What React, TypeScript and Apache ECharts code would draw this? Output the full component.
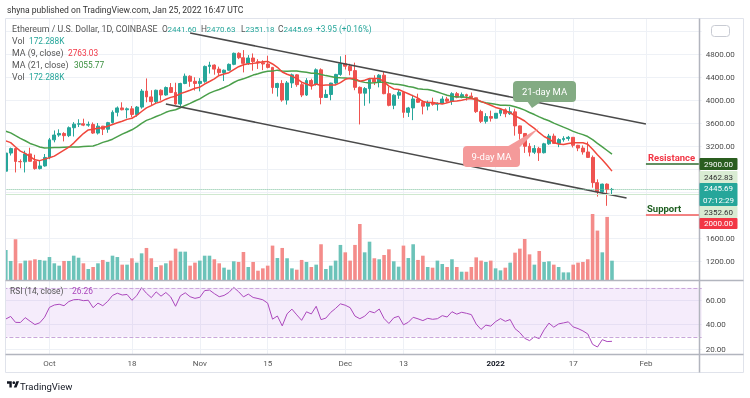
import React, { useEffect, useRef } from "react";
import * as echarts from "echarts";

// ---------- categories (daily, Sep 22 2021 .. Feb 12 2022) ----------
const startDateUTC = Date.UTC(2021, 8, 22);
const categoryCount = 144;
const categories: string[] = Array.from({ length: categoryCount }, (_, i) =>
  new Date(startDateUTC + i * 86400000).toISOString().slice(0, 10)
);

const timeLabels: Record<string, string> = {
  "2021-10-01": "Oct",
  "2021-10-18": "18",
  "2021-11-01": "Nov",
  "2021-11-15": "15",
  "2021-12-01": "Dec",
  "2021-12-13": "13",
  "2022-01-01": "2022",
  "2022-01-17": "17",
  "2022-02-01": "Feb",
};

// price-axis ticks hidden behind the coloured price tags / USD badge
const coveredPriceTicks = [5200, 2800, 2400, 2000];

// closes before the visible range (Aug 1 .. Sep 21), used only by the indicators
const warmupCloses = [
  2557, 2608, 2507, 2725, 2827, 2890, 3157, 3013, 3163, 3142, 3164, 3043, 3322, 3266, 3310, 3147,
  3012, 3016, 3182, 3287, 3225, 3243, 3321, 3175, 3228, 3100, 3269, 3245, 3225, 3227, 3433,
  3834, 3787, 3941, 3887, 3952, 3927, 3429, 3497, 3427, 3211, 3267, 3408, 3286, 3430, 3613, 3575,
  3398, 3434, 3331, 2977, 2762,
];

// visible candles, Sep 22 2021 .. Jan 25 2022
const opens = [
  2762, 3077, 3155, 2931, 2925, 3062, 2934, 2807, 2853,
  3001, 3307, 3391, 3418, 3380, 3518, 3580, 3587, 3563, 3575,
  3425, 3545, 3492, 3606, 3786, 3862, 3830, 3847, 3748, 3877,
  4155, 4054, 3972, 4170, 4087, 4217, 4131, 3930, 4287, 4414, 4325,
  4288, 4324, 4584, 4607, 4537, 4476, 4518, 4620, 4812, 4735,
  4637, 4730, 4667, 4648, 4626, 4567, 4217, 4287, 3999, 4297,
  4437, 4267, 4086, 4339, 4271, 4525, 4044, 4096, 4294, 4445,
  4631, 4587, 4511, 4220, 4119, 4198, 4358, 4310, 4432, 4110,
  3907, 4084, 4134, 3785, 3862, 4018, 3961, 3893, 3958, 3925,
  3940, 4017, 3979, 4110, 4047, 4093, 4068, 4039, 3798, 3629, 3713,
  3683, 3769, 3829, 3761, 3794, 3550, 3418, 3195, 3092, 3158,
  3083, 3238, 3372, 3245, 3311, 3331, 3351, 3212, 3164, 3096,
  3002, 2563, 2405, 2537, 2441.6,
];
const highs = [
  3100, 3172, 3165, 2967, 3118, 3170, 3047, 2950, 3061,
  3340, 3470, 3490, 3440, 3540, 3615, 3665, 3675, 3625, 3610,
  3600, 3550, 3620, 3820, 3888, 3960, 3870, 3895, 3895, 4190,
  4375, 4170, 4180, 4185, 4235, 4295, 4300, 4300, 4460, 4430, 4395,
  4380, 4600, 4665, 4620, 4580, 4530, 4635, 4825, 4830, 4868,
  4780, 4810, 4710, 4690, 4770, 4575, 4300, 4345, 4330, 4460,
  4450, 4300, 4380, 4370, 4550, 4550, 4180, 4300, 4455, 4760,
  4785, 4630, 4650, 4235, 4225, 4360, 4430, 4450, 4485, 4230,
  4100, 4180, 4140, 3880, 4090, 4110, 3995, 3990, 4040, 3960,
  4065, 4055, 4135, 4140, 4130, 4110, 4130, 4040, 3830, 3770, 3815,
  3770, 3860, 3855, 3880, 3850, 3555, 3420, 3250, 3215, 3185,
  3255, 3410, 3415, 3335, 3370, 3375, 3355, 3220, 3210, 3275,
  3035, 2620, 2545, 2550, 2470.63,
];
const lows = [
  2742, 3035, 2740, 2812, 2740, 2930, 2788, 2792, 2840,
  2970, 3264, 3360, 3280, 3355, 3365, 3530, 3545, 3535, 3410,
  3400, 3390, 3430, 3590, 3715, 3820, 3680, 3700, 3710, 3850,
  3960, 3895, 3945, 3990, 4075, 4120, 3920, 3890, 4275, 4230, 4165,
  4150, 4300, 4460, 4440, 4430, 4330, 4510, 4605, 4710, 4480,
  4610, 4510, 4540, 4520, 4550, 4110, 4060, 3970, 3920, 4210,
  4230, 4050, 4070, 4180, 4250, 3925, 4040, 3995, 4270, 4420,
  4530, 4430, 4170, 3575, 3900, 3940, 4260, 4220, 4100, 3890,
  3840, 4020, 3690, 3705, 3650, 3950, 3750, 3820, 3900, 3815,
  3930, 3950, 3915, 4030, 4030, 3990, 4030, 3775, 3600, 3590, 3625,
  3680, 3720, 3700, 3740, 3380, 3310, 3080, 3020, 3060, 2940,
  3070, 3220, 3235, 3180, 3275, 3290, 3175, 3110, 3050, 2995,
  2475, 2320, 2385, 2160, 2351.18,
];
const closes = [
  3077, 3155, 2931, 2925, 3062, 2934, 2807, 2853, 3001,
  3307, 3391, 3418, 3380, 3518, 3580, 3587, 3563, 3575, 3425,
  3545, 3492, 3606, 3786, 3862, 3830, 3847, 3748, 3877, 4155,
  4054, 3972, 4170, 4087, 4217, 4131, 3930, 4287, 4414, 4325, 4288,
  4324, 4584, 4607, 4537, 4476, 4518, 4620, 4812, 4735, 4637,
  4730, 4667, 4648, 4626, 4567, 4217, 4287, 3999, 4297, 4437,
  4267, 4086, 4339, 4271, 4525, 4044, 4096, 4294, 4445, 4631,
  4587, 4511, 4220, 4119, 4198, 4358, 4310, 4432, 4110, 3907,
  4084, 4134, 3785, 3862, 4018, 3961, 3893, 3958, 3925, 3940,
  4017, 3979, 4110, 4047, 4093, 4068, 4039, 3798, 3629, 3713, 3683,
  3769, 3829, 3761, 3794, 3550, 3418, 3195, 3092, 3158, 3083,
  3238, 3372, 3245, 3311, 3331, 3351, 3212, 3164, 3096, 3002,
  2563, 2405, 2537, 2441.74, 2445.69,
];
// volume in thousands of ETH
const volumesK = [
  268, 170, 363, 149, 173, 173, 185, 179, 173,
  205, 149, 128, 170, 170, 217, 199, 149, 98, 116,
  149, 179, 161, 217, 205, 137, 137, 194, 155, 238,
  286, 194, 116, 131, 149, 173, 280, 253, 253, 128, 155,
  173, 217, 217, 185, 149, 110, 92, 167, 161, 250,
  116, 161, 83, 104, 128, 307, 196, 286, 194, 104,
  92, 179, 161, 116, 137, 319, 98, 128, 173, 313,
  247, 173, 313, 500, 247, 342, 194, 185, 223, 274,
  167, 119, 307, 196, 319, 179, 217, 116, 110, 173,
  143, 116, 185, 116, 74, 74, 116, 202, 173, 161, 173,
  104, 86, 110, 155, 244, 280, 366, 229, 137, 259,
  161, 167, 137, 116, 68, 68, 137, 155, 161, 185,
  589, 441, 247, 563, 172.288,
];

// annotation values
const channelUpper = [[38, 5165], [132, 3583]];
const channelLower = [[33, 3930], [128, 2295]];
const resistanceLevel = 2900;
const supportLevel = 2000;
const lastPrice = 2445.69;
const lowLine = 2352.6;

// ---------- indicators derived from the closes ----------
const allCloses = [...warmupCloses, ...closes];
const W = warmupCloses.length;
function sma(period: number) {
  return closes.map((_, i) => {
    const j = i + W;
    let s = 0;
    for (let k = j - period + 1; k <= j; k++) s += allCloses[k];
    return +(s / period).toFixed(2);
  });
}
function rsi(period: number) {
  let ag = 0, al = 0;
  const out: number[] = [];
  for (let k = 1; k < allCloses.length; k++) {
    const ch = allCloses[k] - allCloses[k - 1];
    const g = Math.max(ch, 0), l = Math.max(-ch, 0);
    if (k <= period) {
      ag += g / period;
      al += l / period;
    } else {
      ag = (ag * (period - 1) + g) / period;
      al = (al * (period - 1) + l) / period;
    }
    if (k >= W) out.push(+(100 - 100 / (1 + ag / al)).toFixed(2));
  }
  return out;
}
const ma9 = sma(9);
const ma21 = sma(21);
const rsi14 = rsi(14);

const UP = "#26a69a";
const DOWN = "#ef5350";
const FONT = "Roboto";

const GRID_LEFT = 3.4;
const GRID_W = 698.3;

function txt(x: number, y: number, text: string, fill: string, size = 8, extra: any = {}) {
  return {
    type: "text",
    z: 80,
    x,
    y,
    style: { text, fill, font: `${extra.weight || "normal"} ${size}px ${FONT}`, verticalAlign: "middle", align: extra.align || "left" },
  };
}
function priceTag(y: number, h: number, fill: string, color: string, lines: string[]) {
  const els: any[] = [
    { type: "rect", z: 85, shape: { x: 699.5, y, width: 38, height: h, r: 1 }, style: { fill } },
  ];
  lines.forEach((t, i) => {
    els.push({
      type: "text",
      z: 86,
      x: 718.5,
      y: y + (h / lines.length) * (i + 0.5),
      style: { text: t, fill: color, font: `8px ${FONT}`, align: "center", verticalAlign: "middle" },
    });
  });
  return els;
}

echarts.graphic.registerShape(
  "tvlogo",
  echarts.graphic.extendPath("M14 22H7V11H0V4h14v18zM28 22h-8l7.5-18h8L28 22z", {})
);

export default function App() {
  const ref = useRef<HTMLDivElement>(null);
  useEffect(() => {
    document.body.style.margin = "0";
    const chart = echarts.init(ref.current!, undefined, { renderer: "svg" });
    const labelInterval = (_i: number, v: string) => !!timeLabels[v];
    const baseGrid = { left: GRID_LEFT, width: GRID_W, containLabel: false, outerBoundsMode: "none" };
    const hiddenX = (gridIndex: number) => ({
      type: "category",
      gridIndex,
      data: categories,
      boundaryGap: true,
      show: false,
    });
    const LS = 8.8; // legend word font size
    const VS = 8; // legend number font size

    const graphics: any[] = [
      { type: "rect", z: 50, shape: { x: 0, y: 18, width: 6, height: 356 }, style: { fill: "#fff" } },
      { type: "rect", z: 60, shape: { x: 5.5, y: 18.5, width: 738, height: 354 }, style: { fill: "none", stroke: "#e0e3eb", lineWidth: 1 } },
      { type: "line", z: 60, shape: { x1: 5.5, y1: 280.5, x2: 743.5, y2: 280.5 }, style: { stroke: "#b2b5be", lineWidth: 1.5 } },
      { type: "line", z: 60, shape: { x1: 5.5, y1: 354.5, x2: 743.5, y2: 354.5 }, style: { stroke: "#b2b5be", lineWidth: 1.5 } },
      { type: "line", z: 60, shape: { x1: 699.5, y1: 18.5, x2: 699.5, y2: 372.5 }, style: { stroke: "#b2b5be", lineWidth: 1.5 } },
      // title
      txt(7, 10, "shyna published on TradingView.com, Jan 25, 2022 16:47 UTC", "#333", 8.6),
      // legend
      txt(12, 29, "Ethereum / U.S. Dollar, 1D, COINBASE", "#555", LS),
      txt(162, 29, "O", "#555", VS + 0.4), txt(167.5, 29, "2441.60", UP, VS),
      txt(201, 29, "H", "#555", VS + 0.4), txt(206.5, 29, "2470.63", UP, VS),
      txt(241, 29, "L", "#555", VS + 0.4), txt(245.5, 29, "2351.18", UP, VS),
      txt(278, 29, "C", "#555", VS + 0.4), txt(283.5, 29, "2445.69", UP, VS),
      txt(316, 29, "+3.95 (+0.16%)", UP, VS + 0.3),
      txt(12, 41, "Vol", "#555", LS), txt(29, 41, "172.288K", UP, VS + 0.3),
      txt(12, 53, "MA (9, close)", "#555", LS), txt(68, 53, "2763.03", "#f23645", VS + 0.3),
      txt(12, 65, "MA (21, close)", "#555", LS), txt(74, 65, "3055.77", "#388e3c", VS + 0.3),
      txt(12, 77, "Vol", "#555", LS), txt(29, 77, "172.288K", UP, VS + 0.3),
      txt(10, 291, "RSI (14, close)", "#555", 8.4), txt(72, 291, "26.26", "#ab47bc", 8.4),
      // USD badge
      { type: "rect", z: 85, shape: { x: 711.5, y: 25.5, width: 18, height: 11, r: 3 }, style: { fill: "#fff", stroke: "#c8cbd3", lineWidth: 1 } },
      txt(720.5, 31, "USD", "#333", 7, { align: "center" }),
      // price tags
      ...priceTag(158, 12, "#2a5d1f", "#fff", ["2900.00"]),
      ...priceTag(171, 12, "#d9ecd3", "#333", ["2462.83"]),
      ...priceTag(183, 23, "#26a69a", "#fff", ["2445.69", "07:12:29"]),
      ...priceTag(206, 12, "#d9ecd3", "#333", ["2352.60"]),
      ...priceTag(218, 11, "#f23645", "#fff", ["2000.00"]),
      // resistance / support texts
      txt(648, 157, "Resistance", "#f23645", 9.5, { weight: "bold" }),
      txt(647, 208, "Support", "#1e5e20", 9.5, { weight: "bold" }),
      // 21-day MA callout
      { type: "polygon", z: 70, shape: { points: [[527, 101], [542, 101], [532, 108]] }, style: { fill: "#83ab83" } },
      { type: "rect", z: 70, shape: { x: 513, y: 81, width: 63, height: 21, r: 4 }, style: { fill: "#83ab83" } },
      txt(544.5, 91.5, "21-day MA", "#fff", 9.5, { align: "center" }),
      // 9-day MA callout
      { type: "polygon", z: 70, shape: { points: [[505, 148], [519, 148], [539, 128]] }, style: { fill: "#f49a9a" } },
      { type: "rect", z: 70, shape: { x: 463, y: 146, width: 57, height: 21, r: 4 }, style: { fill: "#f49a9a" } },
      txt(491.5, 156.5, "9-day MA", "#fff", 9.5, { align: "center" }),
      // TradingView logo
      { type: "tvlogo", z: 80, x: 7, y: 380, scaleX: 0.34, scaleY: 0.34, style: { fill: "#131722" } },
      { type: "circle", z: 80, shape: { cx: 7 + 20 * 0.34, cy: 380 + 8 * 0.34, r: 4 * 0.34 }, style: { fill: "#131722" } },
      txt(20, 386, "TradingView", "#131722", 9.5),
    ];

    chart.setOption({
      animation: false,
      textStyle: { fontFamily: FONT },
      grid: [
        { ...baseGrid, top: 18, height: 336 }, // background: time axis + vertical grid
        { ...baseGrid, top: 8, height: 276 }, // price
        { ...baseGrid, top: 200, height: 80 }, // volume
        { ...baseGrid, top: 275.5, height: 98 }, // RSI
      ],
      xAxis: [
        {
          type: "category",
          gridIndex: 0,
          data: categories,
          boundaryGap: true,
          axisLine: { show: false },
          axisTick: { show: false, interval: labelInterval },
          axisLabel: {
            interval: labelInterval,
            margin: 5,
            fontSize: 8,
            color: "#555",
            formatter: (v: string) => (timeLabels[v] === "2022" ? "{b|2022}" : timeLabels[v] || ""),
            rich: { b: { fontWeight: "bold", color: "#131722", fontSize: 8 } },
          },
          splitLine: { show: true, interval: labelInterval, alignWithLabel: true, lineStyle: { color: "#eef1f6", width: 1 } },
        },
        hiddenX(1),
        hiddenX(2),
        hiddenX(3),
      ],
      yAxis: [
        { type: "value", gridIndex: 0, show: false },
        {
          type: "value",
          gridIndex: 1,
          position: "right",
          min: 800,
          max: 5600,
          interval: 400,
          axisLine: { show: false },
          axisTick: { show: false },
          splitLine: { show: true, showMinLine: false, showMaxLine: false, lineStyle: { color: "#eef1f6" } },
          axisLabel: {
            showMinLabel: false,
            showMaxLabel: false,
            fontSize: 8,
            color: "#4a4a4a",
            margin: 4,
            formatter: (v: number) => (coveredPriceTicks.includes(v) ? "" : v.toFixed(2)),
          },
        },
        { type: "value", gridIndex: 2, show: false, min: 0, max: 714 },
        {
          type: "value",
          gridIndex: 3,
          position: "right",
          min: 0,
          max: 80,
          interval: 20,
          axisLine: { show: false },
          axisTick: { show: false },
          splitLine: { show: true, showMinLine: false, showMaxLine: false, lineStyle: { color: "#eef1f6" } },
          axisLabel: { showMinLabel: false, showMaxLabel: false, fontSize: 8, color: "#4a4a4a", margin: 4, formatter: (v: number) => v.toFixed(2) },
        },
      ],
      series: [
        {
          type: "bar",
          xAxisIndex: 2,
          yAxisIndex: 2,
          barWidth: "74%",
          data: volumesK.map((v, i) => ({
            value: v,
            itemStyle: { color: closes[i] >= opens[i] ? "#6cc3b9" : "#f48c8a" },
          })),
          silent: true,
        },
        {
          type: "candlestick",
          xAxisIndex: 1,
          yAxisIndex: 1,
          barWidth: "70%",
          data: opens.map((o, i) => [o, closes[i], lows[i], highs[i]]),
          itemStyle: { color: UP, color0: DOWN, borderColor: UP, borderColor0: DOWN, borderWidth: 1 },
          silent: true,
          markLine: {
            silent: true,
            symbol: ["none", "none"],
            label: { show: false },
            data: [
              { yAxis: lastPrice, lineStyle: { color: "#7cc09c", type: "dotted", width: 1 } },
              { yAxis: lowLine, lineStyle: { color: "#cfe8cf", type: "solid", width: 1 } },
              [
                { coord: [132, resistanceLevel], lineStyle: { color: "#2e6b2e", type: "solid", width: 1.5 } },
                { coord: [143, resistanceLevel] },
              ],
              [
                { coord: [132, supportLevel], lineStyle: { color: "#f05a5a", type: "solid", width: 1.5 } },
                { coord: [143, supportLevel] },
              ],
            ],
          },
        },
        {
          type: "line",
          xAxisIndex: 1,
          yAxisIndex: 1,
          data: ma21,
          symbol: "none",
          lineStyle: { color: "#4a9f4a", width: 1.5 },
          silent: true,
        },
        {
          type: "line",
          xAxisIndex: 1,
          yAxisIndex: 1,
          data: ma9,
          symbol: "none",
          lineStyle: { color: "#f0473c", width: 1.5 },
          silent: true,
        },
        {
          type: "line",
          xAxisIndex: 1,
          yAxisIndex: 1,
          data: channelUpper,
          symbol: "none",
          lineStyle: { color: "#4a4a4a", width: 1.6 },
          silent: true,
        },
        {
          type: "line",
          xAxisIndex: 1,
          yAxisIndex: 1,
          data: channelLower,
          symbol: "none",
          lineStyle: { color: "#4a4a4a", width: 1.6 },
          silent: true,
        },
        {
          type: "line",
          xAxisIndex: 3,
          yAxisIndex: 3,
          data: rsi14,
          symbol: "none",
          lineStyle: { color: "#ab47bc", width: 1 },
          silent: true,
          markArea: {
            silent: true,
            itemStyle: { color: "rgba(171, 96, 220, 0.12)" },
            data: [[{ yAxis: 30 }, { yAxis: 70 }]],
          },
          markLine: {
            silent: true,
            symbol: ["none", "none"],
            label: { show: false },
            lineStyle: { color: "#c9a6da", type: "dashed", width: 1 },
            data: [{ yAxis: 70 }, { yAxis: 30 }],
          },
        },
      ],
      graphic: graphics,
    });
    return () => chart.dispose();
  }, []);
  return <div ref={ref} style={{ position: "fixed", left: 0, top: 0, width: 750, height: 398 }} />;
}
